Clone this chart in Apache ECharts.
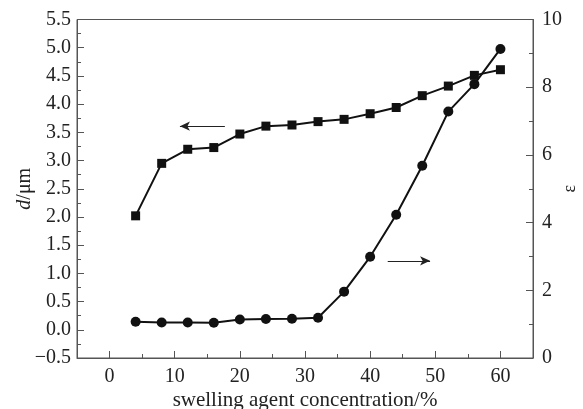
<!DOCTYPE html>
<html>
<head>
<meta charset="utf-8">
<script src="https://cdn.jsdelivr.net/npm/echarts@6/dist/echarts.min.js"></script>
<style>
  html, body { margin: 0; padding: 0; background: #fff; }
  #chart { width: 583px; height: 409px; }
</style>
</head>
<body>
<div id="chart"></div>
<script>
// swelling agent concentration (%)
const concentration = [4, 8, 12, 16, 20, 24, 28, 32, 36, 40, 44, 48, 52, 56, 60]
// pore diameter d (um), left axis
const diameter = [2.02, 2.95, 3.2, 3.23, 3.47, 3.61, 3.63, 3.69, 3.73, 3.83, 3.94, 4.15, 4.32, 4.51, 4.61]
// epsilon, right axis
const epsilon = [1.07, 1.05, 1.05, 1.04, 1.14, 1.15, 1.16, 1.19, 1.96, 2.99, 4.23, 5.68, 7.28, 8.09, 9.13]

// x tick positions
const xMajor = [0, 10, 20, 30, 40, 50, 60]
const xMinor = [5, 15, 25, 35, 45, 55]

// arrows pointing at the axis each curve belongs to: [fromX, toX, y]
const leftArrow = [17.7, 10.8, 3.61]
const rightArrow = [42.7, 49.2, 2.87]

const FONT = '"Liberation Serif", "DejaVu Serif", serif'
const AXIS_COLOR = '#555'

const chart = echarts.init(document.getElementById('chart'), null, { renderer: 'canvas' })

const pair = (xs, ys) => xs.map((x, i) => [x, ys[i]])

function arrowLine([x0, x1, y]) {
  return {
    silent: true,
    symbol: ['none', 'arrow'],
    symbolSize: [7, 10],
    label: { show: false },
    lineStyle: { color: '#222', width: 1, type: 'solid' },
    data: [[{ coord: [x0, y] }, { coord: [x1, y] }]],
  }
}

const axisCommon = {
  axisLine: { show: true, onZero: false, lineStyle: { color: AXIS_COLOR, width: 1 } },
  axisTick: { show: true, inside: true, length: 7, lineStyle: { color: AXIS_COLOR } },
  minorTick: { show: true, splitNumber: 2, length: 4, lineStyle: { color: AXIS_COLOR } },
  splitLine: { show: false },
  axisLabel: { color: '#222', fontFamily: FONT, fontSize: 20 },
  nameMoveOverlap: false,
}

chart.setOption({
  backgroundColor: '#fff',
  animation: false,
  grid: {
    left: 77, right: 50, top: 19.5, bottom: 51,
    outerBoundsMode: 'none',
    containLabel: false,
    show: true, borderColor: AXIS_COLOR, borderWidth: 1,
  },
  xAxis: [
    {
      type: 'value',
      position: 'bottom',
      min: -5, max: 65, interval: 10,
      ...axisCommon,
      axisLabel: { ...axisCommon.axisLabel, margin: 9, customValues: xMajor },
      axisTick: { ...axisCommon.axisTick, customValues: xMajor },
      minorTick: { show: false },
      name: 'swelling agent concentration/%',
      nameLocation: 'middle',
      nameGap: 32,
      nameTextStyle: { color: '#222', fontFamily: FONT, fontSize: 21 },
    },
    {
      // minor ticks only
      type: 'value',
      position: 'bottom',
      offset: 0,
      min: -5, max: 65, interval: 10,
      axisLine: { show: false, onZero: false },
      axisLabel: { show: false },
      splitLine: { show: false },
      axisTick: { show: true, inside: true, length: 4, lineStyle: { color: AXIS_COLOR }, customValues: xMinor },
    },
  ],
  yAxis: [
    {
      type: 'value',
      position: 'left',
      min: -0.5, max: 5.5, interval: 0.5,
      ...axisCommon,
      axisLabel: {
        ...axisCommon.axisLabel,
        margin: 6,
        formatter: v => (v < 0 ? '\u2212' + Math.abs(v).toFixed(1) : v.toFixed(1)),
      },
      name: '{i|d}/\u03bcm',
      nameLocation: 'middle',
      nameGap: 42,
      nameRotate: 90,
      nameTextStyle: {
        color: '#222', fontFamily: FONT, fontSize: 20,
        rich: { i: { fontStyle: 'italic', fontFamily: FONT, fontSize: 20, color: '#222' } },
      },
    },
    {
      type: 'value',
      position: 'right',
      min: 0, max: 10, interval: 2,
      ...axisCommon,
      axisLabel: { ...axisCommon.axisLabel, margin: 9 },
      name: '\u03b5',
      nameLocation: 'middle',
      nameGap: 28,
      nameRotate: 90,
      nameTextStyle: { color: '#222', fontFamily: FONT, fontSize: 18 },
    },
  ],
  series: [
    {
      name: 'd',
      type: 'line',
      xAxisIndex: 0,
      yAxisIndex: 0,
      data: pair(concentration, diameter),
      symbol: 'rect',
      symbolSize: 9,
      itemStyle: { color: '#111' },
      lineStyle: { color: '#111', width: 2 },
      markLine: arrowLine(leftArrow),
    },
    {
      name: 'epsilon',
      type: 'line',
      xAxisIndex: 0,
      yAxisIndex: 1,
      data: pair(concentration, epsilon),
      symbol: 'circle',
      symbolSize: 10,
      itemStyle: { color: '#111' },
      lineStyle: { color: '#111', width: 2 },
      markLine: arrowLine(rightArrow),
    },
  ],
})
</script>
</body>
</html>
